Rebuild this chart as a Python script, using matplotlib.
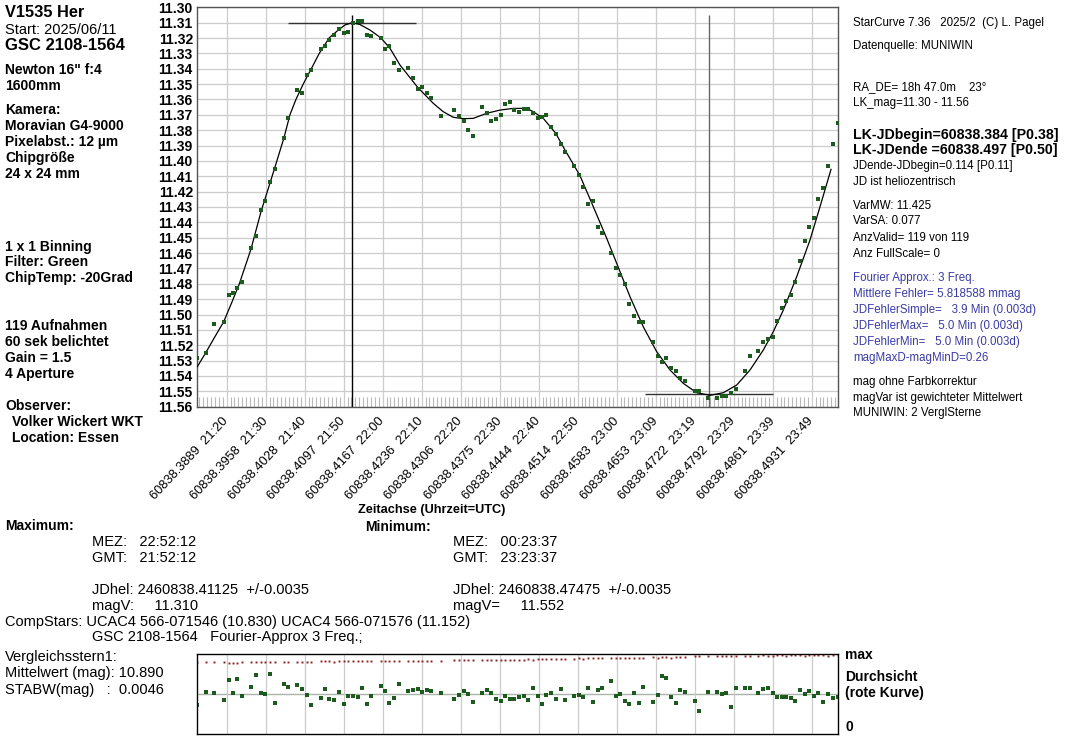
import numpy as np
import matplotlib
matplotlib.use("Agg")
import matplotlib.pyplot as plt
from matplotlib.ticker import MultipleLocator

plt.rcParams['font.family'] = ['Liberation Sans', 'DejaVu Sans']

# observation times in minutes after 21:00 UTC (2025/06/11)
t_min = [12.46, 14.62, 16.74, 19.23, 20.51, 21.62, 22.72, 23.92, 26.23, 27.44,
         28.79, 29.90, 31.10, 32.31, 34.69, 35.64, 38.10, 39.38, 40.51, 41.62,
         44.10, 45.21, 46.31, 47.59, 48.79, 50.00, 51.10, 52.38, 53.59, 54.77,
         55.90, 57.08, 59.49, 60.51, 61.69, 62.97, 64.18, 66.49, 67.69, 68.97,
         70.15, 71.28, 72.38, 74.87, 78.36, 79.64, 80.77, 81.87, 83.08, 85.54,
         86.67, 87.85, 89.05, 90.26, 91.36, 92.56, 93.74, 94.95, 96.15, 97.26,
         98.46, 99.74, 100.92, 101.95, 103.23, 104.44, 105.64, 106.74, 109.05, 110.33,
         111.44, 112.64, 113.85, 115.13, 116.23, 118.54, 119.74, 120.92, 122.13, 123.23,
         124.51, 125.79, 126.74, 129.23, 130.51, 131.54, 132.72, 133.92, 135.21, 136.23,
         137.44, 140.00, 141.03, 143.49, 145.72, 146.92, 148.10, 149.31, 150.51, 152.90,
         154.10, 156.31, 157.59, 158.79, 160.00, 161.03, 162.31, 163.49, 164.69, 165.79,
         167.00, 168.21, 169.38, 170.59, 171.69, 172.90, 174.18, 175.38, 176.67]

mag_var = [11.528, 11.525, 11.506, 11.505, 11.4875, 11.486, 11.483, 11.479, 11.457, 11.449,
           11.432, 11.426, 11.414, 11.405, 11.385, 11.372, 11.354, 11.356, 11.344, 11.341,
           11.327, 11.325, 11.3215, 11.318, 11.314, 11.317, 11.316, 11.310, 11.309, 11.309,
           11.318, 11.319, 11.320, 11.327, 11.325, 11.336, 11.341, 11.3395, 11.346, 11.353,
           11.352, 11.356, 11.359, 11.371, 11.367, 11.371, 11.374, 11.380, 11.384, 11.365,
           11.369, 11.374, 11.3725, 11.370, 11.363, 11.3615, 11.367, 11.368, 11.366, 11.366,
           11.369, 11.372, 11.3715, 11.370, 11.378, 11.3825, 11.389, 11.394, 11.403, 11.409,
           11.417, 11.428, 11.426, 11.443, 11.447, 11.460, 11.470, 11.474, 11.480, 11.493,
           11.501, 11.505, 11.505, 11.518, 11.527, 11.531, 11.528, 11.535, 11.537, 11.5415,
           11.543, 11.5495, 11.550, 11.5545, 11.5545, 11.553, 11.553, 11.551, 11.5485, 11.5365,
           11.527, 11.5235, 11.518, 11.516, 11.5145, 11.504, 11.4955, 11.491, 11.487, 11.479,
           11.465, 11.452, 11.443, 11.437, 11.425, 11.4175, 11.403, 11.389, 11.3755]

# Fourier approximation curve
fit_t = [12.46, 14.62, 16.74, 19.23, 21.28, 23.23, 26.23, 28.79, 32.31, 34.69,
         36.23, 37.77, 39.64, 41.69, 43.74, 46.31, 48.62, 50.33, 52.21, 54.18,
         56.74, 59.49, 61.87, 64.44, 68.97, 72.97, 75.54, 78.10, 80.67, 83.23,
         86.67, 90.08, 93.49, 96.92, 98.62, 101.18, 104.36, 106.74, 110.59, 114.00,
         117.44, 120.85, 123.41, 126.82, 130.26, 133.67, 137.08, 140.51, 143.92, 147.33,
         150.77, 154.18, 157.59, 160.15, 162.72, 166.15, 169.56, 172.13, 174.95]
fit_mag = [11.534, 11.5249, 11.5155, 11.5047, 11.4923, 11.4801, 11.4574, 11.4331, 11.4046, 11.3849,
           11.3699, 11.3599, 11.3499, 11.3400, 11.3300, 11.3198, 11.3148, 11.3115, 11.3100, 11.3112,
           11.3148, 11.3198, 11.3267, 11.3376, 11.3521, 11.3625, 11.3680, 11.3716, 11.3725, 11.3723,
           11.3690, 11.3669, 11.3658, 11.3658, 11.3680, 11.3723, 11.3820, 11.3929, 11.4096, 11.4298,
           11.4504, 11.4721, 11.4884, 11.5080, 11.5242, 11.5361, 11.5448, 11.5509, 11.5526, 11.5509,
           11.5459, 11.5361, 11.5231, 11.5112, 11.4971, 11.4754, 11.4515, 11.4298, 11.4055]

# comparison star (Vergleichsstern1) and transmission (rote Kurve)
comp_mag = [10.8955, 10.8887, 10.8895, 10.8927, 10.8830, 10.8892, 10.8825, 10.8907, 10.8862, 10.8802,
            10.8893, 10.8898, 10.8798, 10.8942, 10.8850, 10.8862, 10.8855, 10.8873, 10.8903, 10.8953,
            10.8918, 10.8873, 10.8922, 10.8928, 10.8887, 10.8947, 10.8907, 10.8907, 10.8913, 10.8870,
            10.8950, 10.8907, 10.8858, 10.8882, 10.8942, 10.8918, 10.8850, 10.8882, 10.8878, 10.8873,
            10.8890, 10.8878, 10.8883, 10.8893, 10.8922, 10.8905, 10.8882, 10.8898, 10.8938, 10.8892,
            10.8877, 10.8892, 10.8922, 10.8935, 10.8907, 10.8925, 10.8923, 10.8913, 10.8908, 10.8928,
            10.8870, 10.8910, 10.8947, 10.8905, 10.8893, 10.8922, 10.8873, 10.8927, 10.8908, 10.8902,
            10.8913, 10.8867, 10.8937, 10.8878, 10.8870, 10.8835, 10.8910, 10.8898, 10.8933, 10.8947,
            10.8893, 10.8943, 10.8862, 10.8937, 10.8903, 10.8807, 10.8820, 10.8912, 10.8943, 10.8877,
            10.8890, 10.8935, 10.8982, 10.8887, 10.8890, 10.8900, 10.8893, 10.8962, 10.8867, 10.8868,
            10.8867, 10.8895, 10.8873, 10.8867, 10.8893, 10.8913, 10.8913, 10.8913, 10.8918, 10.8932,
            10.8880, 10.8897, 10.8882, 10.8908, 10.8893, 10.8937, 10.8897, 10.8917, 10.8913]

transp = [0.905, 0.900, 0.905, 0.900, 0.895, 0.895, 0.895, 0.900, 0.900, 0.900,
          0.900, 0.900, 0.905, 0.900, 0.905, 0.905, 0.905, 0.910, 0.910, 0.910,
          0.915, 0.915, 0.920, 0.910, 0.915, 0.920, 0.915, 0.920, 0.920, 0.915,
          0.920, 0.920, 0.915, 0.915, 0.920, 0.920, 0.920, 0.920, 0.920, 0.915,
          0.915, 0.915, 0.915, 0.920, 0.925, 0.925, 0.925, 0.925, 0.925, 0.925,
          0.925, 0.925, 0.930, 0.930, 0.930, 0.930, 0.935, 0.935, 0.935, 0.940,
          0.935, 0.940, 0.945, 0.940, 0.945, 0.945, 0.940, 0.945, 0.945, 0.950,
          0.945, 0.950, 0.950, 0.950, 0.955, 0.950, 0.955, 0.955, 0.960, 0.955,
          0.960, 0.960, 0.960, 0.965, 0.960, 0.965, 0.965, 0.960, 0.965, 0.965,
          0.970, 0.975, 0.980, 0.975, 0.980, 0.980, 0.975, 0.980, 0.985, 0.985,
          0.985, 0.985, 0.990, 0.985, 0.985, 0.990, 0.990, 0.985, 0.990, 0.990,
          0.990, 0.985, 0.990, 0.990, 0.990, 0.990, 0.985, 0.990, 0.990]

tick_labels = ["60838.3889  21:20", "60838.3958  21:30", "60838.4028  21:40", "60838.4097  21:50",
               "60838.4167  22:00", "60838.4236  22:10", "60838.4306  22:20", "60838.4375  22:30",
               "60838.4444  22:40", "60838.4514  22:50", "60838.4583  23:00", "60838.4653  23:09",
               "60838.4722  23:19", "60838.4792  23:29", "60838.4861  23:39", "60838.4931  23:49"]
tick_t = [20, 30, 40, 50, 60, 70, 80, 90, 100, 110, 120, 130, 140, 150, 160, 170]

jd_max, mag_max = 60838.41125, 11.310
jd_min, mag_min = 60838.47475, 11.552
comp_mean = 10.890

JD0 = 60838.375  # 21:00 UTC


def to_jd(t):
    return JD0 + np.asarray(t) / 1440.0


jd = to_jd(t_min)
W, H = 1073, 748
green = '#1d5a1d'

fig = plt.figure(figsize=(W / 100, H / 100), dpi=100)
fig.patch.set_facecolor('white')

ax = fig.add_axes([197 / W, 1 - 406.7 / H, 641 / W, 399.4 / H])
ax.plot(to_jd(fit_t), fit_mag, color='black', lw=0.9, zorder=3)
ax.plot(jd, mag_var, 's', color=green, ms=2.6, mew=0, zorder=4)

half = 16.4 / 1440
ax.vlines(jd_max, 11.305, 11.56, color='black', lw=1.0, zorder=2)
ax.hlines(mag_max, jd_max - half, jd_max + half, color='#333333', lw=1.0, zorder=2)
ax.vlines(jd_min, 11.305, 11.56, color='#666666', lw=1.0, zorder=2)
ax.hlines(mag_min, jd_min - half, jd_min + half, color='#333333', lw=1.0, zorder=2)

ax.set_xlim(jd.min() - 0.00005, jd.max() + 0.00005)
ax.set_ylim(11.56, 11.30)
yt = np.round(np.arange(11.30, 11.5651, 0.01), 2)
ax.set_yticks(yt)
ax.set_yticklabels([f"{v:.2f}" for v in yt], fontsize=10, fontweight='bold')
ax.set_xticks(to_jd(tick_t))
ax.set_xticklabels(tick_labels, rotation=47, ha='right', va='center',
                   rotation_mode='anchor', fontsize=9.3)
ax.xaxis.set_minor_locator(MultipleLocator(1 / 1440))
ax.tick_params(axis='y', length=0, pad=3)
ax.tick_params(axis='x', which='major', length=0, pad=9)
ax.tick_params(axis='x', which='minor', direction='in', length=7,
               color='#b8b8b8', width=0.8)
ax.grid(True, which='major', color='#cccccc', lw=0.9)
ax.set_axisbelow(True)
for s in ax.spines.values():
    s.set_color('#555555')
    s.set_linewidth(1.0)

# comparison star panel
ax2 = fig.add_axes([197 / W, 1 - 734.3 / H, 641 / W, 80 / H])
ax2.axhline(comp_mean, color='#a9b3a9', lw=1.0, zorder=1)
ax2.plot(jd, comp_mag, 's', color=green, ms=2.6, mew=0, zorder=3)
ax2.set_xlim(ax.get_xlim())
ax2.set_ylim(comp_mean + 0.02, comp_mean - 0.02)
ax2.set_xticks(to_jd(tick_t))
ax2.set_yticks([])
ax2.tick_params(axis='x', length=0, labelbottom=False)
ax2.grid(True, axis='x', color='#cccccc', lw=0.9)
for s in ax2.spines.values():
    s.set_color('#555555')
    s.set_linewidth(1.0)
ax3 = ax2.twinx()
ax3.plot(jd, transp, 's', color='#8b2323', ms=1.4, mew=0)
ax3.set_ylim(0, 1.0)
ax3.set_yticks([])
ax3.set_xlim(ax.get_xlim())


def put(x, y, s, size=10, weight='bold', color='black', ha='left'):
    fig.text(x / W, 1 - y / H, s, fontsize=size, fontweight=weight,
             color=color, ha=ha, va='center')


# left column
put(5, 12.5, "V1535 Her", size=11.8)
put(5, 30, "Start: 2025/06/11", size=10.5, weight='normal')
put(5, 46, "GSC 2108-1564", size=12)
left_lines = [(70, "Newton 16\" f:4"), (86, "1600mm"), (110, "Kamera:"),
              (126, "Moravian G4-9000"), (142, "Pixelabst.: 12 µm"), (158, "Chipgröße"),
              (174, "24 x 24 mm"), (247, "1 x 1 Binning"), (262, "Filter: Green"),
              (278, "ChipTemp: -20Grad"), (326, "119 Aufnahmen"), (342, "60 sek belichtet"),
              (358, "Gain = 1.5"), (374, "4 Aperture"), (406, "Observer:")]
for y, s in left_lines:
    put(5, y, s)
put(12, 422, "Volker Wickert WKT")
put(12, 438, "Location: Essen")

# right column
blue = '#3b3ba5'
right_lines = [(22.7, "StarCurve 7.36   2025/2  (C) L. Pagel", 'normal', 'black', 8.3),
               (46, "Datenquelle: MUNIWIN", 'normal', 'black', 8.3),
               (87.3, "RA_DE= 18h 47.0m    23°", 'normal', 'black', 8.3),
               (103.3, "LK_mag=11.30 - 11.56", 'normal', 'black', 8.3),
               (135, "LK-JDbegin=60838.384 [P0.38]", 'bold', 'black', 10.2),
               (150, "LK-JDende =60838.497 [P0.50]", 'bold', 'black', 10.2),
               (165.7, "JDende-JDbegin=0.114 [P0.11]", 'normal', 'black', 8.3),
               (181.7, "JD ist heliozentrisch", 'normal', 'black', 8.3),
               (206, "VarMW: 11.425", 'normal', 'black', 8.3),
               (221.3, "VarSA: 0.077", 'normal', 'black', 8.3),
               (237.7, "AnzValid= 119 von 119", 'normal', 'black', 8.3),
               (254, "Anz FullScale= 0", 'normal', 'black', 8.3),
               (278, "Fourier Approx.: 3 Freq.", 'normal', blue, 8.3),
               (293.7, "Mittlere Fehler= 5.818588 mmag", 'normal', blue, 8.3),
               (310, "JDFehlerSimple=   3.9 Min (0.003d)", 'normal', blue, 8.3),
               (325.7, "JDFehlerMax=   5.0 Min (0.003d)", 'normal', blue, 8.3),
               (341.7, "JDFehlerMin=   5.0 Min (0.003d)", 'normal', blue, 8.3),
               (357.7, "magMaxD-magMinD=0.26", 'normal', blue, 8.3),
               (382, "mag ohne Farbkorrektur", 'normal', 'black', 8.3),
               (397.7, "magVar ist gewichteter Mittelwert", 'normal', 'black', 8.3),
               (413.3, "MUNIWIN: 2 VerglSterne", 'normal', 'black', 8.3)]
for y, s, w, c, fs in right_lines:
    put(853, y, s, size=fs, weight=w, color=c)

# axis title and extrema block
put(432, 510, "Zeitachse (Uhrzeit=UTC)", size=9.2, ha='center')
put(5, 526, "Maximum:")
put(365, 527, "Minimum:")
reg = dict(size=10.5, weight='normal')
put(92, 542, "MEZ:   22:52:12", **reg)
put(92, 558, "GMT:   21:52:12", **reg)
put(453, 542, "MEZ:   00:23:37", **reg)
put(453, 558, "GMT:   23:23:37", **reg)
put(92, 590, "JDhel: 2460838.41125  +/-0.0035", **reg)
put(92, 606, "magV:     11.310", **reg)
put(453, 590, "JDhel: 2460838.47475  +/-0.0035", **reg)
put(453, 606, "magV=     11.552", **reg)
put(5, 622, "CompStars: UCAC4 566-071546 (10.830) UCAC4 566-071576 (11.152)", **reg)
put(92, 637, "GSC 2108-1564   Fourier-Approx 3 Freq.;", **reg)
put(5, 657, "Vergleichsstern1:", **reg)
put(5, 673, "Mittelwert (mag): 10.890", **reg)
put(5, 690, "STABW(mag)   :  0.0046", **reg)
put(845, 655, "max")
put(845, 677, "Durchsicht")
put(845, 693, "(rote Kurve)")
put(845, 727, "0")

fig.savefig("out.png", dpi=100)
